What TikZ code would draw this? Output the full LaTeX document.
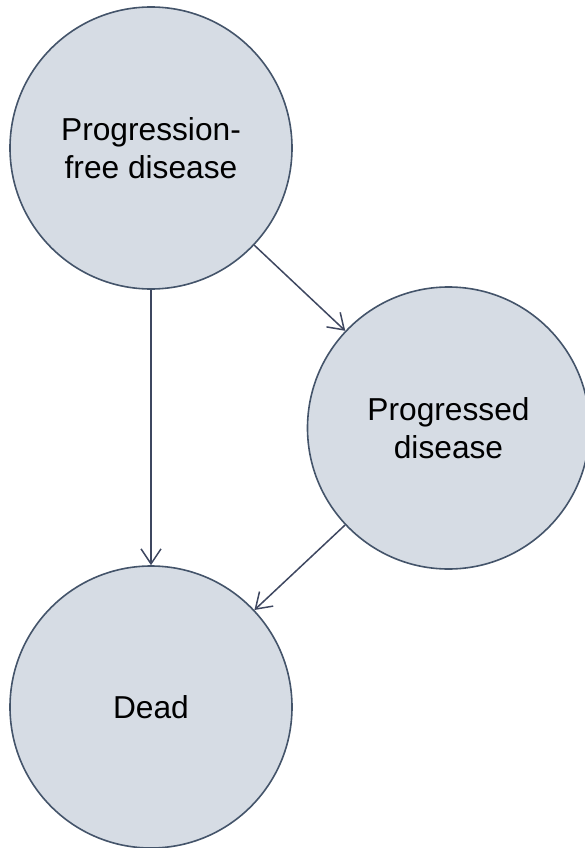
\documentclass[tikz,border=0pt]{standalone}
\usepackage{fontspec}
\setmainfont{Liberation Sans}
\usetikzlibrary{arrows.meta}
\definecolor{statefill}{HTML}{D6DCE4}
\definecolor{stateline}{HTML}{44546A}
\definecolor{arrowline}{HTML}{3E4760}
\begin{document}
\begin{tikzpicture}[x=1pt,y=-1pt,
  state/.style={circle, draw=stateline, fill=statefill, line width=1.6pt,
    minimum size=282pt, inner sep=0pt, align=center,
    font=\fontsize{31.7}{38}\selectfont},
  trans/.style={draw=arrowline, line width=1.5pt,
    -{Straight Barb[length=15pt,width=20pt,line width=1.5pt]}}]
\useasboundingbox (0,0) rectangle (585,848);
\node[state] (pf) at (151,148) {Progression-\\free disease};
\node[state] (pd) at (448.5,428) {Progressed\\disease};
\node[state] (dead) at (151,707) {Dead};
\draw[trans] (pf) -- (pd);
\draw[trans] (pf) -- (dead);
\draw[trans] (pd) -- (dead);
\end{tikzpicture}
\end{document}
